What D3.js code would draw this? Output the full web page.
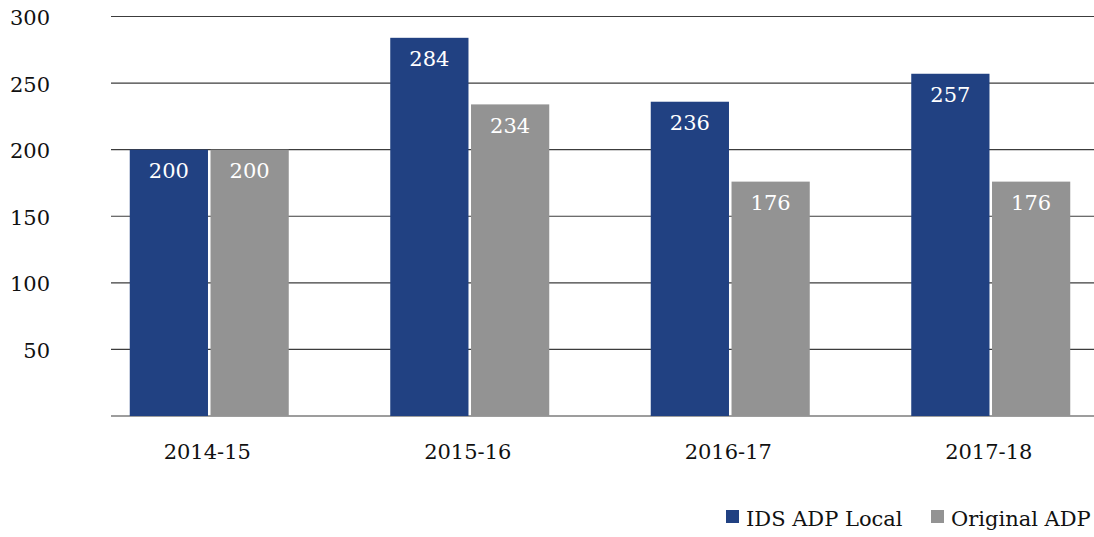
<!DOCTYPE html>
<html>
<head>
<meta charset="utf-8">
<script src="https://cdn.jsdelivr.net/npm/d3@7"></script>
<style>
  html, body { margin: 0; padding: 0; background: #fff; }
  svg { display: block; font-family: "DejaVu Serif", "Liberation Serif", serif; }
</style>
</head>
<body>
<svg id="chart" width="1094" height="537"></svg>
<script>
// Years on the category axis
const categories = ["2014-15", "2015-16", "2016-17", "2017-18"];
// Series values
const idsAdpLocal = [200, 284, 236, 257];
const originalAdp = [200, 234, 176, 176];
// Series names for the legend
const seriesNames = ["IDS ADP Local", "Original ADP"];
// Y axis ticks
const yTicks = [0, 50, 100, 150, 200, 250, 300];

const colors = ["#214182", "#939393"];
const svg = d3.select("#chart");

const gridLeft = 111, gridRight = 1094;
const y = d3.scaleLinear().domain([0, 300]).range([416, 16.5]);
const x = d3.scaleBand().domain(categories).range([79, 1121]).padding(0);
const inner = d3.scaleBand().domain([0, 1]).range([-79.5, 79.5]).paddingInner(5 / 159);

// Horizontal gridlines
svg.append("g")
  .selectAll("line")
  .data(yTicks)
  .join("line")
  .attr("x1", gridLeft).attr("x2", gridRight)
  .attr("y1", d => y(d)).attr("y2", d => y(d))
  .attr("stroke", "#3c3c3c").attr("stroke-width", 1.2);

// Y tick labels (zero left unlabeled)
svg.append("g")
  .selectAll("text")
  .data(yTicks.filter(d => d > 0))
  .join("text")
  .attr("x", 50).attr("y", d => y(d) + 8.5)
  .attr("text-anchor", "end")
  .attr("font-size", 21).attr("fill", "#111")
  .text(d => d);

// Bars
const series = [idsAdpLocal, originalAdp];
const groups = svg.append("g")
  .selectAll("g")
  .data(categories)
  .join("g")
  .attr("transform", d => `translate(${x(d) + x.bandwidth() / 2},0)`);

groups.selectAll("rect")
  .data((d, i) => series.map((s, k) => ({ k, v: s[i] })))
  .join("rect")
  .attr("x", d => inner(d.k))
  .attr("width", inner.bandwidth())
  .attr("y", d => y(d.v))
  .attr("height", d => y(0) - y(d.v))
  .attr("fill", d => colors[d.k]);

groups.selectAll("text.val")
  .data((d, i) => series.map((s, k) => ({ k, v: s[i] })))
  .join("text")
  .attr("class", "val")
  .attr("x", d => inner(d.k) + inner.bandwidth() / 2)
  .attr("y", d => y(d.v) + 28.5)
  .attr("text-anchor", "middle")
  .attr("font-size", 21).attr("fill", "#fff")
  .text(d => d.v);

// Category labels
groups.append("text")
  .attr("x", -2).attr("y", 459)
  .attr("text-anchor", "middle")
  .attr("font-size", 21).attr("fill", "#111")
  .text(d => d);

// Legend
const legendX = [726, 931];
const legend = svg.append("g")
  .selectAll("g")
  .data(seriesNames)
  .join("g")
  .attr("transform", (d, i) => `translate(${legendX[i]},0)`);
legend.append("rect")
  .attr("x", 0).attr("y", 510).attr("width", 13).attr("height", 13)
  .attr("fill", (d, i) => colors[i]);
legend.append("text")
  .attr("x", 20).attr("y", 525.5)
  .attr("font-size", 21).attr("fill", "#111")
  .text(d => d);
</script>
</body>
</html>
